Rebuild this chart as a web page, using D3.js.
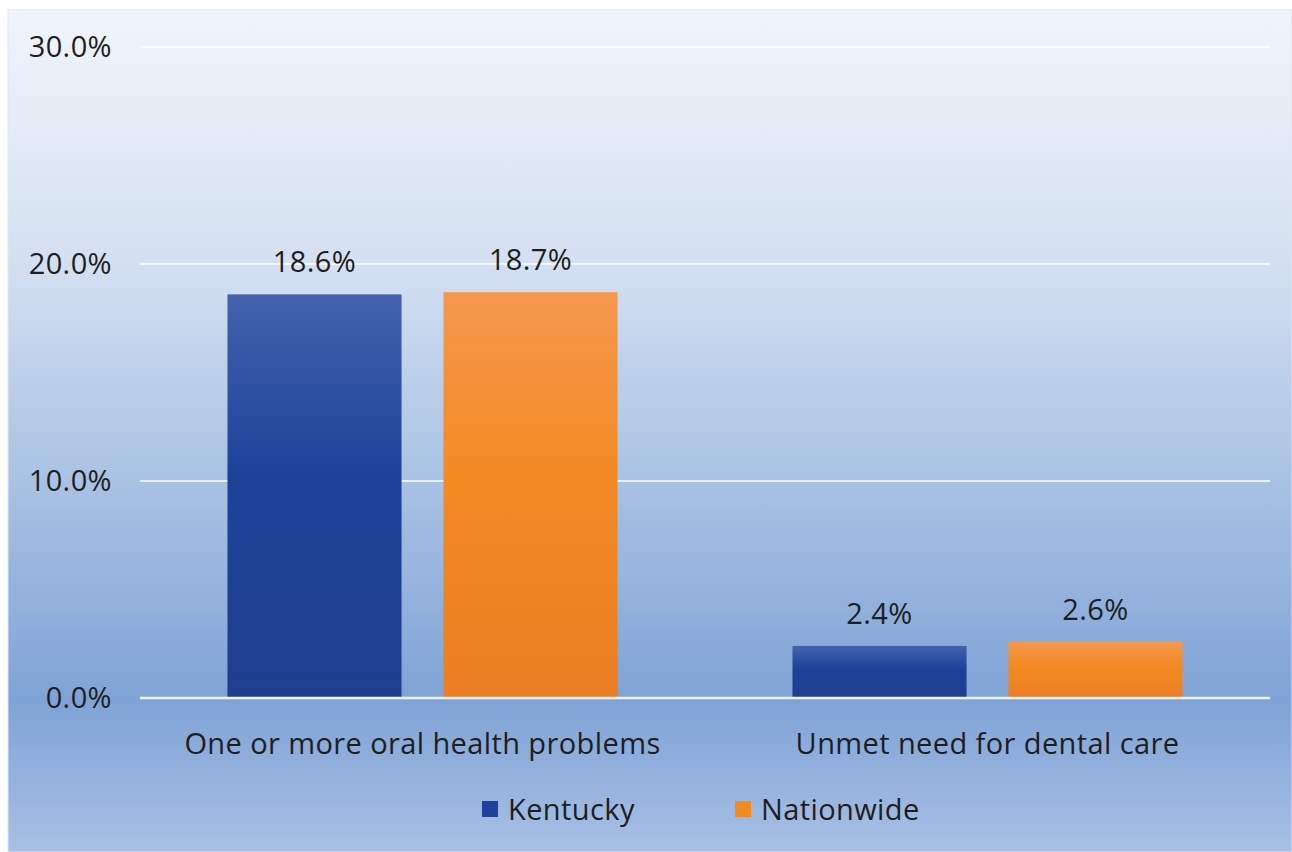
<!DOCTYPE html>
<html>
<head>
<meta charset="utf-8">
<script src="https://cdn.jsdelivr.net/npm/d3@7"></script>
<style>
  html, body { margin: 0; padding: 0; background: #ffffff; }
  svg { display: block; }
  text { font-family: "Open Sans", "Noto Sans", sans-serif; fill: #1e1e1e; letter-spacing: 0.4px; }
</style>
</head>
<body>
<svg id="chart" width="1292" height="852"></svg>
<script>
// Oral health indicators, Kentucky vs. nationwide
const categories = ["One or more oral health problems", "Unmet need for dental care"];
const seriesNames = ["Kentucky", "Nationwide"];
const kentucky = [18.6, 2.4];
const nationwide = [18.7, 2.6];
const yTicks = [0, 10, 20, 30];

const seriesValues = [kentucky, nationwide];
const seriesColors = ["#1e4199", "#f28b22"];

const W = 1292, H = 852;
const FONT = 29;
const frame = { x: 8, y: 10, w: W - 8, h: H - 10 };
const plot = { left: 140, right: 1270, top: 47, bottom: 698 };

const svg = d3.select("#chart");
const defs = svg.append("defs");

// Panel background: pale at the top, deepening blue near the baseline
const bg = defs.append("linearGradient")
  .attr("id", "bgGrad").attr("x1", 0).attr("y1", 0).attr("x2", 0).attr("y2", 1);
[[0, "#f1f5fb"], [0.3, "#d3e0f1"], [0.82, "#7fa3d6"], [1, "#a8c0e4"]]
  .forEach(([o, c]) => bg.append("stop").attr("offset", o).attr("stop-color", c));

// Bar fills: lighter at the top edge, richer below
const barGrads = [
  [[0, "#4462ac"], [0.45, "#1c4299"], [1, "#213e8e"]],
  [[0, "#f5984f"], [0.45, "#f38a22"], [1, "#eb7d24"]]
];
barGrads.forEach((stops, i) => {
  const g = defs.append("linearGradient")
    .attr("id", "barGrad" + i).attr("x1", 0).attr("y1", 0).attr("x2", 0).attr("y2", 1);
  stops.forEach(([o, c]) => g.append("stop").attr("offset", o).attr("stop-color", c));
});

svg.append("rect")
  .attr("x", frame.x).attr("y", frame.y)
  .attr("width", frame.w).attr("height", frame.h)
  .attr("fill", "url(#bgGrad)")
  .attr("stroke", "#dfe6ef").attr("stroke-width", 1);

// Scales
const x0 = d3.scaleBand().domain(categories).range([plot.left, plot.right]).paddingInner(0).paddingOuter(0);
const x1 = d3.scaleBand().domain(seriesNames).range([0, x0.bandwidth()]).paddingInner(0.194).paddingOuter(0.405);
const y = d3.scaleLinear().domain([0, 30]).range([plot.bottom, plot.top]);

// Gridlines
svg.append("g").selectAll("line").data(yTicks.filter(t => t > 0)).join("line")
  .attr("x1", plot.left).attr("x2", plot.right)
  .attr("y1", d => y(d)).attr("y2", d => y(d))
  .attr("stroke", "#ffffff").attr("stroke-opacity", 0.75).attr("stroke-width", 2);

// Y axis labels
const yAxis = d3.axisLeft(y).tickValues(yTicks).tickFormat(d => d.toFixed(1) + "%").tickSize(0).tickPadding(28);
const yg = svg.append("g").attr("transform", `translate(${plot.left},0)`).call(yAxis);
yg.select(".domain").remove();
yg.selectAll("text").attr("font-size", FONT).attr("fill", "#1e1e1e")
  .style("font-family", '"Open Sans", "Noto Sans", sans-serif');

// Bars
const groups = svg.append("g").selectAll("g").data(categories).join("g")
  .attr("transform", d => `translate(${x0(d)},0)`);

groups.each(function (cat, ci) {
  const g = d3.select(this);
  seriesNames.forEach((s, si) => {
    const v = seriesValues[si][ci];
    g.append("rect")
      .attr("x", x1(s)).attr("width", x1.bandwidth())
      .attr("y", y(v)).attr("height", y(0) - y(v))
      .attr("fill", `url(#barGrad${si})`);
    g.append("text")
      .attr("x", x1(s) + x1.bandwidth() / 2)
      .attr("y", y(v) - 22)
      .attr("text-anchor", "middle")
      .attr("font-size", FONT)
      .text(v.toFixed(1) + "%");
  });
});

// Baseline
svg.append("line")
  .attr("x1", plot.left).attr("x2", plot.right)
  .attr("y1", y(0)).attr("y2", y(0))
  .attr("stroke", "#eef2f8").attr("stroke-width", 2.5);

// Category axis labels
const xAxis = d3.axisBottom(x0).tickSize(0).tickPadding(35);
const xg = svg.append("g").attr("transform", `translate(0,${plot.bottom})`).call(xAxis);
xg.select(".domain").remove();
xg.selectAll("text").attr("font-size", FONT).attr("fill", "#1e1e1e")
  .style("font-family", '"Open Sans", "Noto Sans", sans-serif');

// Legend
const legendItems = [
  { name: seriesNames[0], x: 482 },
  { name: seriesNames[1], x: 735 }
];
const lg = svg.append("g").selectAll("g").data(legendItems).join("g")
  .attr("transform", d => `translate(${d.x},809)`);
lg.append("rect").attr("x", 0).attr("y", -8).attr("width", 16).attr("height", 16)
  .attr("fill", (d, i) => seriesColors[i]);
lg.append("text").attr("x", 26).attr("y", 11).attr("font-size", FONT).text(d => d.name);
</script>
</body>
</html>
